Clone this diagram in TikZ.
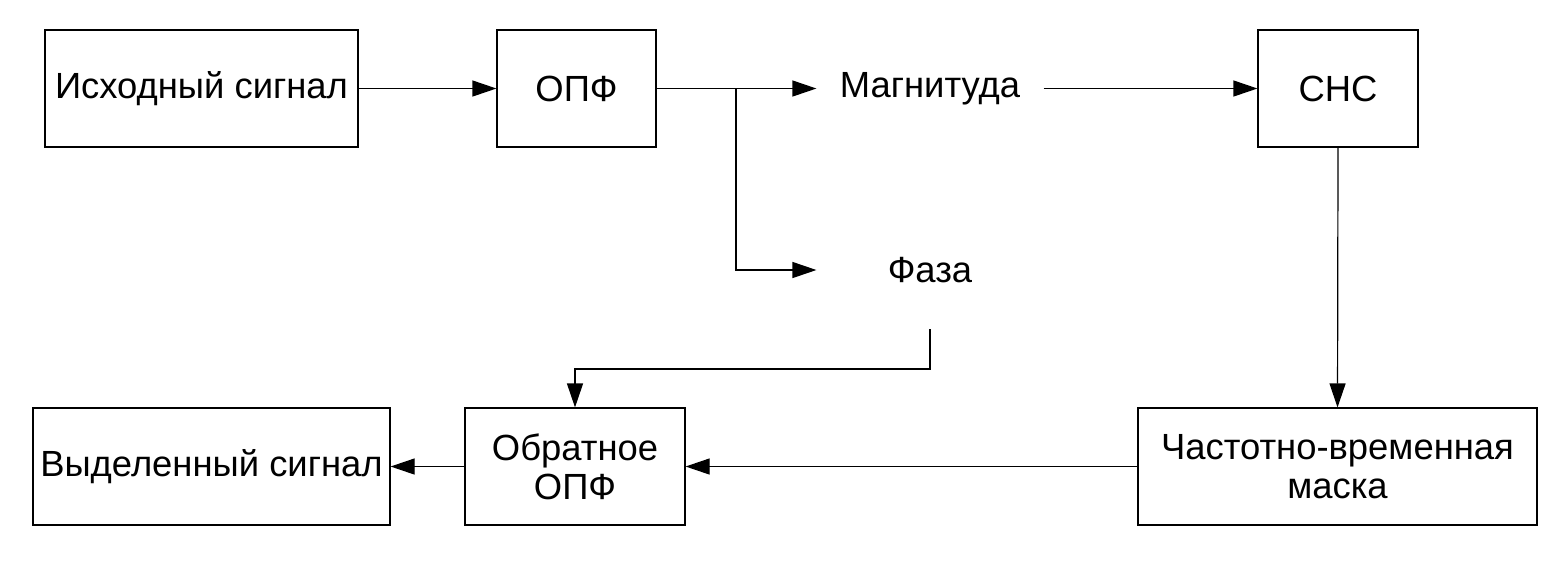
\documentclass[tikz,border=0pt]{standalone}
\usepackage{fontspec}
\setmainfont{Liberation Sans}
\usetikzlibrary{arrows.meta}
\begin{document}
\begin{tikzpicture}[x=0.5pt,y=-0.5pt,
  box/.style={draw,line width=0.6pt,minimum height=58.5pt,inner sep=0pt,align=center,
    font=\fontsize{18.2pt}{19.5pt}\selectfont},
  lbl/.style={box,draw=none},
  arr/.style={line width=0.6pt,-{Triangle[length=12pt,width=8pt]}},
  ln/.style={line width=0.6pt}]
\useasboundingbox (0,0) rectangle (1567,564);
\node[box,minimum width=156.5pt] (src) at (201.5,88.5) {Исходный сигнал};
\node[box,minimum width=79.5pt] (opf) at (576.5,88.5) {ОПФ};
\node[lbl,minimum width=113pt] (mag) at (930,88.5) {Магнитуда};
\node[lbl,minimum width=113pt] (phase) at (930,270) {Фаза};
\node[box,minimum width=80pt] (snc) at (1338,88.5) {СНС};
\node[box,minimum width=199.5pt] (mask) at (1337.5,466.5) {Частотно-временная\\маска};
\node[box,minimum width=110pt] (iopf) at (575,466.5) {Обратное\\ОПФ};
\node[box,minimum width=178.5pt] (out) at (211.5,466.5) {Выделенный сигнал};
\coordinate (br) at (736,88.5);
\coordinate (turn) at (0,369);
\draw[arr] (src.east) -- (opf.west);
\draw[arr] (opf.east) -- (mag.west);
\draw[arr] (br) |- (phase.west);
\draw[arr] (mag.east) -- (snc.west);
\draw[arr] (snc.south) -- (mask.north);
\draw[arr] (phase.south) -- (phase.south |- turn) -| (iopf.north);
\draw[arr] (mask.west) -- (iopf.east);
\draw[arr] (iopf.west) -- (out.east);
\end{tikzpicture}
\end{document}
